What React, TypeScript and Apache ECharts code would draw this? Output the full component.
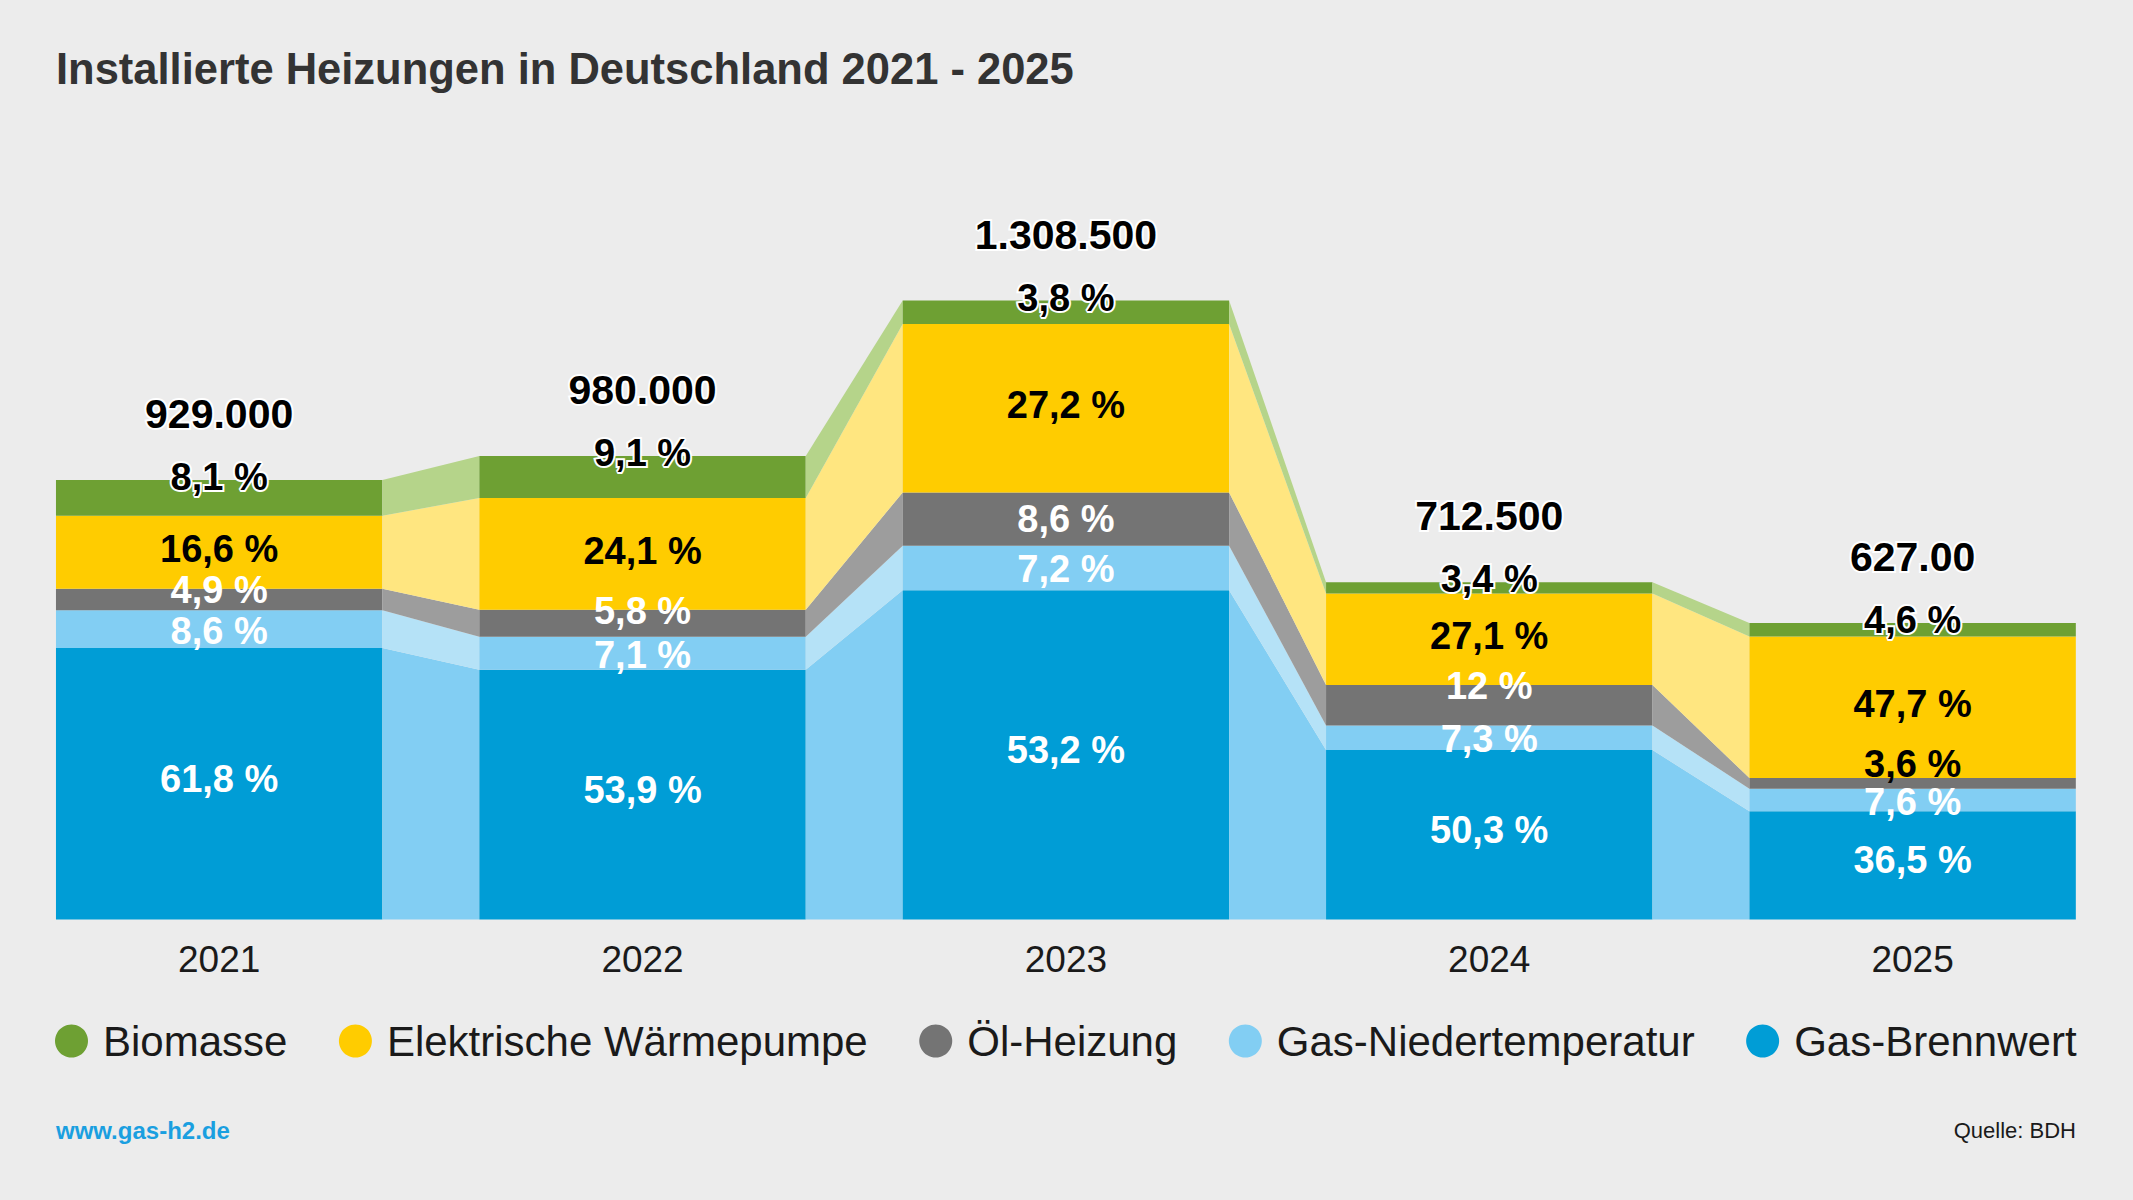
import React, { useEffect, useRef } from "react";
import * as echarts from "echarts";

const years = ["2021", "2022", "2023", "2024", "2025"];
const totals = [929000, 980000, 1308500, 712500, 627000];
const totalLabels = ["929.000", "980.000", "1.308.500", "712.500", "627.00"];
const gasBrennwert = [61.8, 53.9, 53.2, 50.3, 36.5];
const gasNiedertemperatur = [8.6, 7.1, 7.2, 7.3, 7.6];
const oelHeizung = [4.9, 5.8, 8.6, 12, 3.6];
const waermepumpe = [16.6, 24.1, 27.2, 27.1, 47.7];
const biomasse = [8.1, 9.1, 3.8, 3.4, 4.6];

// stacking order, bottom to top
const layerNames = ["Gas-Brennwert", "Gas-Niedertemperatur", "Öl-Heizung", "Elektrische Wärmepumpe", "Biomasse"];
const layerValues = [gasBrennwert, gasNiedertemperatur, oelHeizung, waermepumpe, biomasse];
const legendOrder = ["Biomasse", "Elektrische Wärmepumpe", "Öl-Heizung", "Gas-Niedertemperatur", "Gas-Brennwert"];

const barColors: Record<string, string> = {
  "Gas-Brennwert": "#009DD6",
  "Gas-Niedertemperatur": "#82CEF3",
  "Öl-Heizung": "#747474",
  "Elektrische Wärmepumpe": "#FFCC00",
  Biomasse: "#6EA033",
};
const linkColors: Record<string, string> = {
  "Gas-Brennwert": "#82CEF3",
  "Gas-Niedertemperatur": "#B5E2F7",
  "Öl-Heizung": "#9D9D9D",
  "Elektrische Wärmepumpe": "#FFE680",
  Biomasse: "#B5D48A",
};

const FONT = "'Liberation Sans', Arial, Helvetica, sans-serif";
const BAR_RATIO = 0.771;

// cumulative boundaries: cum[layer][year] = [bottom, top] in absolute units
const cum: number[][][] = layerNames.map(() => []);
years.forEach((_, i) => {
  let acc = 0;
  layerValues.forEach((vals, l) => {
    const v = (totals[i] * vals[i]) / 100;
    cum[l][i] = [acc, acc + v];
    acc += v;
  });
});

function fmtPct(v: number) {
  const s = Number.isInteger(v) ? String(v) : v.toFixed(1).replace(".", ",");
  return s + " %";
}

function makeLayerSeries(l: number) {
  const name = layerNames[l];
  const data = years.map((_, i) => [i, cum[l][i][0], cum[l][i][1]]);
  return {
    type: "custom",
    name,
    itemStyle: { color: barColors[name] },
    encode: { x: 0, y: [1, 2] },
    data,
    z: 2,
    renderItem: (params: any, api: any) => {
      const i = api.value(0);
      const b = api.value(1);
      const t = api.value(2);
      const pb = api.coord([i, b]);
      const pt = api.coord([i, t]);
      const hw = (api.size([1, 0])[0] * BAR_RATIO) / 2;
      const children: any[] = [
        {
          type: "rect",
          shape: { x: pb[0] - hw, y: pt[1], width: hw * 2, height: pb[1] - pt[1] },
          style: { fill: barColors[name] },
        },
      ];
      if (i < years.length - 1) {
        const nb = api.coord([i + 1, cum[l][i + 1][0]]);
        const nt = api.coord([i + 1, cum[l][i + 1][1]]);
        children.push({
          type: "polygon",
          shape: {
            points: [
              [pb[0] + hw, pb[1]],
              [pt[0] + hw, pt[1]],
              [nt[0] - hw, nt[1]],
              [nb[0] - hw, nb[1]],
            ],
          },
          style: { fill: linkColors[name] },
        });
      }
      return { type: "group", children };
    },
  };
}

function labelText(x: number, y: number, text: string, fill: string, size: number, outline: boolean) {
  return {
    type: "text",
    x,
    y,
    style: {
      text,
      fill,
      fontSize: size,
      fontWeight: "bold",
      fontFamily: FONT,
      align: "center",
      verticalAlign: "middle",
      stroke: outline ? "#ffffff" : undefined,
      lineWidth: outline ? 4 : 0,
    },
  };
}

const labelSeries = {
  type: "custom",
  name: "labels",
  data: years.map((_, i) => [i, totals[i]]),
  encode: { x: 0, y: 1 },
  z: 10,
  silent: true,
  renderItem: (params: any, api: any) => {
    const i = api.value(0);
    const ys = cum.map((c) => [api.coord([i, c[i][0]])[1], api.coord([i, c[i][1]])[1]]);
    const x = api.coord([i, 0])[0];
    const center = (l: number) => (ys[l][0] + ys[l][1]) / 2;
    const yBrenn = center(0) - 5;
    const yNT = center(1) + 1.5;
    const oelH = ys[2][0] - ys[2][1];
    let yOel = oelH > 48 ? center(2) : ys[2][1] + 1;
    yOel = Math.min(yOel, yNT - 38);
    const oelOnYellow = yOel < ys[2][1] - 8;
    const yWP = Math.min(center(3) - 3, yOel - 38);
    const yBio = ys[4][1] - 3;
    const yTotal = ys[4][1] - 66;
    const children = [
      labelText(x, yBrenn, fmtPct(gasBrennwert[i]), "#ffffff", 38, false),
      labelText(x, yNT, fmtPct(gasNiedertemperatur[i]), "#ffffff", 38, false),
      labelText(x, yOel, fmtPct(oelHeizung[i]), oelOnYellow ? "#000000" : "#ffffff", 38, false),
      labelText(x, yWP, fmtPct(waermepumpe[i]), "#000000", 38, false),
      labelText(x, yBio, fmtPct(biomasse[i]), "#000000", 38, true),
      labelText(x, yTotal, totalLabels[i], "#000000", 41, true),
    ];
    return { type: "group", children };
  },
};

export default function App() {
  const ref = useRef<HTMLDivElement>(null);
  useEffect(() => {
    if (!ref.current) return;
    const chart = echarts.init(ref.current, null, { renderer: "svg" });
    const option: any = {
      animation: false,
      backgroundColor: "#ECECEC",
      grid: { left: 7.5, right: 8.7, top: 209.9, bottom: 280.4, containLabel: false },
      xAxis: {
        type: "category",
        data: years,
        axisLine: { show: false },
        axisTick: { show: false },
        splitLine: { show: false },
        axisLabel: { fontSize: 37, color: "#1a1a1a", fontFamily: FONT, margin: 21 },
      },
      yAxis: { type: "value", min: 0, max: 1500000, show: false, splitLine: { show: false } },
      legend: {
        data: legendOrder,
        left: 50,
        top: 1015,
        icon: "circle",
        itemWidth: 33,
        itemHeight: 33,
        itemGap: 51.5,
        selectedMode: false,
        textStyle: { fontSize: 42, color: "#1a1a1a", fontFamily: FONT, padding: [0, 0, 0, 10] },
      },
      graphic: [
        {
          type: "text",
          left: 56,
          top: 47,
          style: {
            text: "Installierte Heizungen in Deutschland 2021 - 2025",
            fill: "#333333",
            fontSize: 43.5,
            fontWeight: "bold",
            fontFamily: FONT,
          },
        },
        {
          type: "text",
          left: 56,
          top: 1118,
          style: { text: "www.gas-h2.de", fill: "#1A9FE0", fontSize: 24, fontWeight: "bold", fontFamily: FONT },
        },
        {
          type: "text",
          right: 57,
          top: 1119,
          style: { text: "Quelle: BDH", fill: "#1a1a1a", fontSize: 22, fontFamily: FONT },
        },
      ],
      series: [...layerNames.map((_, l) => makeLayerSeries(l)), labelSeries],
    };
    chart.setOption(option);
    return () => chart.dispose();
  }, []);
  return (
    <div
      ref={ref}
      style={{ position: "absolute", left: 0, top: 0, width: 2133, height: 1200, background: "#ECECEC" }}
    />
  );
}
